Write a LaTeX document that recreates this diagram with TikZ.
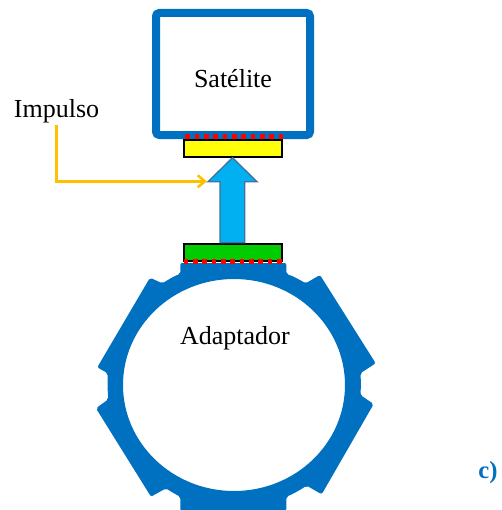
\documentclass[tikz,border=0pt]{standalone}
\usepackage{fontspec}
\setmainfont{Liberation Serif}
\usetikzlibrary{arrows.meta}
\definecolor{zblue}{HTML}{0070C0}
\definecolor{zsky}{HTML}{00B0F0}
\definecolor{zedge}{HTML}{41719C}
\definecolor{zorange}{HTML}{FFC000}
\definecolor{zyellow}{HTML}{FFFF0C}
\definecolor{zgreen}{HTML}{00CC00}
\tikzset{zlabel/.style={
  inner sep=0pt,
  font=\fontsize{19.5}{22}\selectfont}}
\tikzset{zplate/.style={
  draw=black,
  line width=1.3,
  inner sep=0pt,
  minimum width=74pt,
  minimum height=13pt}}
\tikzset{zdot/.style={
  fill=red,
  inner sep=0pt,
  minimum size=3.6pt}}

\begin{document}
\begin{tikzpicture}[x=.75pt,y=-.75pt]
  \useasboundingbox (0,0) rectangle (501,510);

  %% Satellite body
  \draw[zblue,line width=6,rounded corners=2.5] (156,13) rectangle (310,135);
  \node[zlabel] (satelite) at (233,79) {Satélite};

  %% Adapter ring with its lobes
  \fill[zblue,even odd rule,rounded corners=1.5]
    (286.3,263) -- (286.3,274) .. controls (293,276) and (300,280) .. (305.7,283.3)
    -- (320,275) -- (375.7,363.3) -- (360.3,373.3)
    .. controls (361,380) and (361,388) .. (360.3,395)
    -- (373.7,404) -- (321.7,494.3) -- (306.7,485.7)
    .. controls (300,490) and (293,494) .. (286.3,496.7)
    -- (286.3,511) -- (180.3,511) -- (180.3,496.7)
    .. controls (175,494) and (170,491) .. (166,488.3)
    -- (151,496.7) -- (96,408.3) -- (108.3,399.3)
    .. controls (107.5,390) and (107.5,382) .. (107.7,373.3)
    -- (97.3,367.3) -- (150,277.7) -- (162.3,283.3)
    .. controls (168,280) and (174,276) .. (180.3,274)
    -- (180.3,263) -- cycle
    (234,385) ellipse [x radius=111,y radius=106];
  \node[zlabel] (adaptador) at (235,338.5) {Adaptador};

  %% Plates
  \node[zplate,fill=zyellow] (topplate) at (233,148.5) {};
  \node[zplate,fill=zgreen] (bottomplate) at (233,252.3) {};

  %% Red dots along each joint
  \foreach \i in {0,...,10}{
    \node[zdot] (topdot\i) at (187.7+\i*9.33,136.7) {};
    \node[zdot] (bottomdot\i) at (186+\i*9.33,261.7) {};
  }

  %% Big arrow
  \draw[zedge,fill=zsky,line width=1,line join=miter]
    (232.5,157.7) -- (257,181.7) -- (244.7,181.7) -- (244.7,242.7)
    -- (220,242.7) -- (220,181.7) -- (208,181.7) -- cycle;
  \coordinate (headleft) at (207,181.3);

  %% Impulse line
  \node[zlabel] (impulso) at (56.5,111.5) {Impulso};
  \draw[zorange,line width=1.9,-{Straight Barb[length=5.5pt,width=9pt]}]
    (impulso.south) ++(0,1.5) |- (headleft);

  \node[zlabel,text=zblue,font=\fontsize{18.5}{20}\selectfont\bfseries] (panel) at (488,473) {c)};
\end{tikzpicture}
\end{document}
